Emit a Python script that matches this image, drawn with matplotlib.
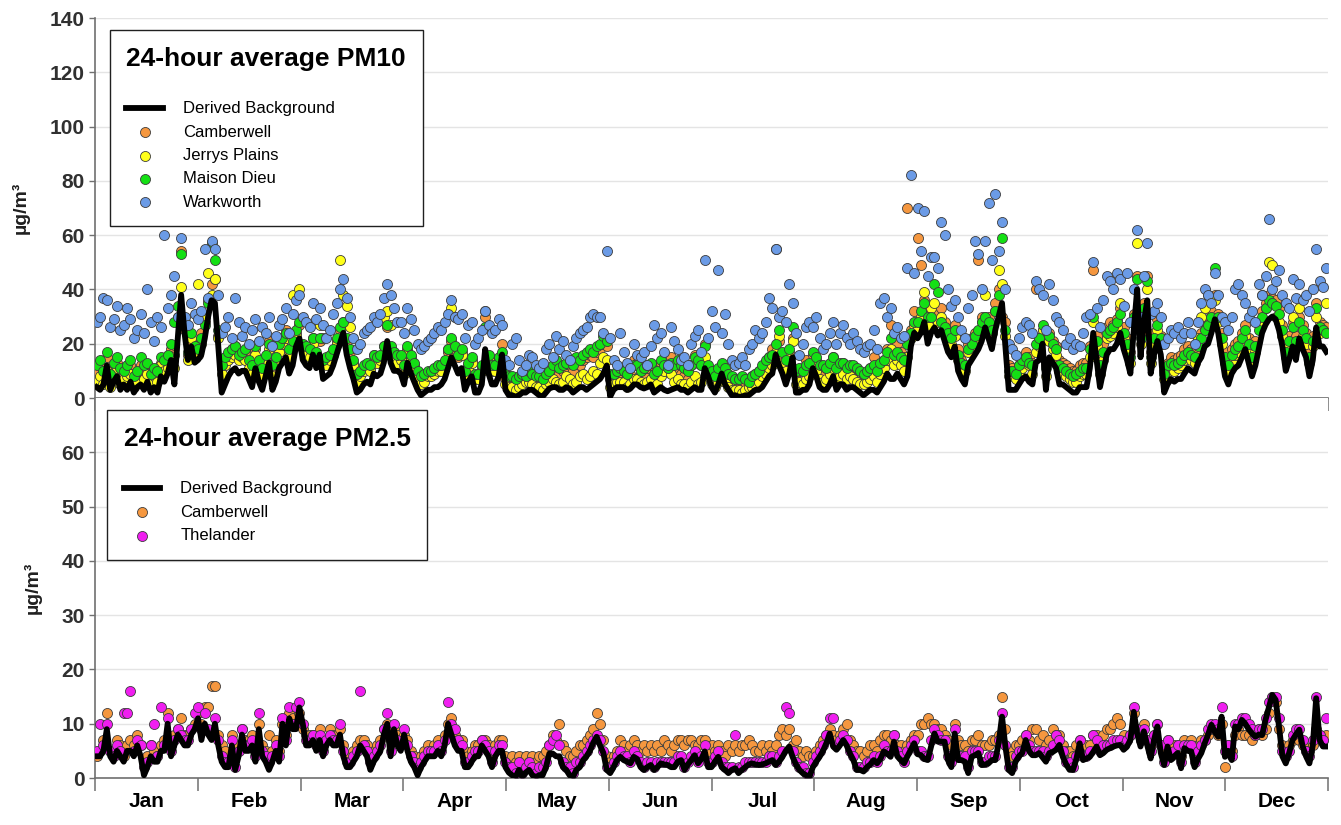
import matplotlib.pyplot as plt
import numpy as np

plt.rcParams['font.family'] = ['Liberation Sans', 'DejaVu Sans']

months = ['Jan', 'Feb', 'Mar', 'Apr', 'May', 'Jun',
          'Jul', 'Aug', 'Sep', 'Oct', 'Nov', 'Dec']

# ---- 24-hour average PM10 (ug/m3), one value per day, a line per month ----
pm10_background = [
    4, 3, 5, 12, 3, 6, 8, 3, 5, 3, 6, 2, 4, 5, 3, 6, 2, 4, 2, 8, 6, 9, 14, 5, 22, 38, 24, 14, 19, 13, 14,
    16, 22, 30, 36, 35, 19, 2, 5, 8, 10, 11, 9, 10, 10, 7, 4, 11, 6, 3, 8, 13, 3, 6, 11, 13, 15, 9, 12,
    19, 22, 14, 12, 11, 16, 11, 16, 7, 8, 9, 12, 16, 20, 24, 16, 11, 7, 2, 3, 5, 6, 5, 9, 8, 9, 13, 21, 13, 10, 10,
    9, 5, 13, 9, 6, 3, 1, 2, 3, 3, 4, 4, 5, 7, 11, 15, 12, 9, 11, 3, 6, 8, 2, 2, 5, 18, 9, 5, 5, 8,
    16, 3, 1, 1, 0.5, 1, 2, 2, 3, 3, 2, 1, 0.5, 2, 3.5, 4, 4, 3, 3, 4, 3.5, 2, 3, 4, 4, 3, 4, 5, 6, 7, 9,
    12, 0.5, 3, 4, 4, 4, 3, 3.5, 5, 5, 4, 3.5, 4, 5, 2, 3, 4, 3, 2.5, 3, 3.5, 4, 3, 3, 2, 3, 4, 3, 3, 11,
    8, 4, 2, 5, 9, 5, 3, 1, 1, 0.5, 0.5, 1, 1, 2, 3, 3, 4, 6, 8, 9, 16, 12, 9, 5, 9, 15, 2, 2, 3, 3, 5,
    11, 8, 4, 3, 3, 5, 8, 3, 5, 5, 3, 4, 4, 3, 2, 1, 2, 3, 3, 2, 4, 6, 9, 7, 7, 9, 7, 5, 8, 19, 24,
    22, 24, 28, 20, 24, 26, 23, 25, 21, 17, 15, 19, 10, 7, 5, 12, 14, 16, 18, 21, 26, 22, 18, 25, 30, 35, 19, 3, 3, 3,
    5, 7, 8, 6, 5, 13, 14, 20, 3, 15, 13, 11, 5, 5, 4, 3, 2, 2, 4, 4, 4, 11, 24, 14, 4, 10, 16, 18, 18, 20, 24,
    18, 14, 9, 25, 40, 15, 28, 36, 9, 16, 21, 16, 2, 5, 7, 6, 7, 7, 9, 11, 10, 9, 13, 15, 19, 20, 24, 29, 24, 16,
    8, 5, 9, 11, 12, 15, 18, 13, 8, 12, 18, 24, 27, 29, 30, 29, 25, 19, 10, 14, 19, 14, 22, 18, 15, 8, 14, 26, 19, 19, 17,
]

pm10_camberwell = [
    10, 12, 9, 15, 7, 11, 13, 8, 9, 10, 12, 7, 9, 12, 10, 11, 8, 10, 9, 13, 12, 14, 18, 16, 30, 54, 25, 16, 21, 17, 16,
    24, 28, 36, 42, 44, 23, 11, 14, 16, 18, 19, 15, 17, 17, 13, 11, 18, 13, 10, 15, 21, 11, 14, 19, 22, 25, 17, 22,
    24, 27, 19, 18, 17, 22, 16, 21, 13, 14, 15, 17, 21, 25, 28, 21, 17, 13, 8, 9, 11, 12, 11, 16, 14, 15, 19, 26, 18, 16, 15,
    15, 11, 18, 15, 12, 9, 7, 8, 9, 9, 10, 11, 11, 13, 17, 21, 18, 15, 17, 9, 12, 14, 8, 8, 11, 30, 15, 11, 11, 14,
    20, 7, 6, 6, 5, 6, 7, 8, 8, 7, 6, 6, 5, 7, 8, 10, 12, 9, 10, 11, 12, 10, 13, 12, 14, 15, 16, 15, 17, 18, 20,
    19, 7, 7, 8, 9, 10, 8, 9, 14, 13, 9, 8, 11, 12, 8, 9, 13, 11, 10, 15, 11, 13, 9, 8, 7, 12, 16, 13, 12, 20,
    11, 8, 6, 9, 12, 8, 7, 6, 5, 5, 6, 6, 7, 8, 9, 10, 11, 13, 15, 18, 55, 21, 14, 12, 17, 22, 9, 10, 11, 14, 12,
    16, 14, 11, 10, 11, 12, 15, 10, 12, 13, 10, 11, 11, 10, 9, 8, 9, 11, 15, 10, 12, 14, 18, 27, 16, 20, 17, 15, 70, 25, 32,
    59, 49, 36, 28, 32, 34, 31, 33, 28, 24, 22, 27, 18, 14, 12, 20, 22, 24, 51, 30, 30, 30, 27, 35, 40, 30, 28, 12, 11, 10,
    12, 14, 17, 15, 13, 40, 22, 25, 12, 24, 21, 19, 14, 13, 12, 11, 10, 10, 12, 13, 13, 19, 47, 23, 14, 20, 26, 28, 27, 29, 33,
    26, 22, 17, 31, 45, 24, 35, 45, 17, 24, 29, 23, 10, 13, 15, 14, 15, 16, 18, 19, 18, 17, 21, 24, 27, 29, 32, 38, 31, 24,
    17, 14, 18, 20, 21, 24, 27, 22, 17, 21, 27, 32, 35, 38, 37, 36, 33, 27, 19, 23, 28, 23, 30, 27, 24, 17, 23, 35, 28, 27, 26,
]

pm10_jerrys_plains = [
    6, 8, 5, 10, 4, 9, 11, 5, 7, 8, 9, 4, 6, 10, 7, 9, 5, 8, 6, 12, 10, 11, 15, 11, 28, 41, 26, 14, 22, 16, 42,
    20, 30, 46, 38, 44, 22, 9, 12, 14, 15, 16, 14, 15, 14, 11, 9, 16, 11, 8, 13, 18, 8, 12, 17, 20, 22, 15, 38,
    23, 40, 18, 16, 15, 20, 28, 27, 22, 12, 14, 16, 20, 51, 38, 34, 26, 12, 6, 8, 10, 11, 10, 14, 13, 14, 30, 32, 27, 14, 13,
    14, 9, 17, 14, 11, 8, 5, 6, 8, 8, 9, 10, 10, 12, 18, 33, 30, 18, 16, 8, 11, 13, 7, 7, 10, 32, 14, 10, 10, 13,
    14, 5, 4, 4, 3, 4, 5, 6, 6, 5, 4, 4, 3, 5, 6, 7, 6, 5, 6, 8, 7, 5, 6, 8, 9, 7, 8, 10, 9, 13, 15,
    14, 4, 5, 6, 6, 6, 4, 5, 7, 7, 6, 5, 6, 7, 4, 5, 8, 10, 12, 9, 6, 7, 5, 5, 4, 6, 8, 5, 6, 15,
    8, 5, 4, 6, 10, 6, 4, 3, 3, 3, 2, 3, 4, 4, 5, 6, 8, 9, 11, 12, 17, 23, 13, 10, 15, 21, 5, 6, 5, 7, 8,
    12, 10, 7, 6, 7, 9, 11, 6, 8, 9, 7, 8, 7, 6, 5, 5, 6, 7, 8, 6, 9, 11, 14, 18, 12, 14, 12, 10, 15, 22, 27,
    26, 30, 39, 27, 33, 35, 28, 30, 25, 22, 20, 23, 14, 11, 10, 17, 19, 22, 24, 28, 38, 26, 24, 32, 47, 42, 23, 8, 8, 7,
    9, 11, 13, 12, 9, 17, 19, 25, 8, 21, 18, 16, 10, 9, 8, 7, 6, 6, 8, 9, 9, 15, 28, 19, 9, 14, 22, 23, 24, 26, 35,
    22, 18, 13, 28, 57, 20, 31, 40, 13, 20, 25, 20, 7, 10, 11, 10, 11, 12, 14, 15, 14, 13, 22, 30, 33, 38, 28, 36, 28, 20,
    13, 10, 14, 16, 17, 20, 23, 18, 13, 17, 28, 38, 33, 50, 49, 30, 28, 23, 15, 19, 30, 20, 33, 23, 20, 13, 19, 30, 24, 25, 35,
]

pm10_maison_dieu = [
    12, 14, 10, 17, 9, 13, 15, 11, 10, 12, 14, 8, 10, 15, 12, 13, 9, 11, 10, 15, 14, 16, 20, 28, 34, 53, 28, 17, 24, 19, 18,
    22, 27, 35, 57, 51, 25, 12, 15, 17, 18, 19, 16, 17, 18, 14, 12, 19, 14, 11, 16, 20, 12, 15, 20, 22, 24, 18, 21,
    25, 28, 20, 19, 18, 22, 17, 22, 14, 15, 16, 18, 22, 26, 28, 22, 18, 14, 9, 10, 12, 13, 12, 16, 15, 16, 19, 27, 19, 17, 16,
    16, 12, 19, 16, 13, 10, 8, 9, 10, 10, 11, 12, 12, 14, 18, 22, 19, 16, 18, 10, 13, 15, 9, 9, 12, 26, 16, 12, 12, 15,
    17, 9, 8, 8, 7, 8, 9, 8, 10, 9, 8, 8, 7, 9, 10, 12, 14, 11, 12, 13, 14, 12, 15, 14, 16, 17, 18, 17, 19, 20, 23,
    21, 9, 9, 10, 11, 10, 9, 11, 12, 12, 10, 11, 12, 13, 9, 10, 14, 12, 11, 13, 12, 14, 12, 11, 10, 12, 15, 14, 12, 19,
    12, 10, 8, 11, 13, 11, 9, 8, 7, 7, 8, 7, 6, 8, 9, 10, 12, 14, 15, 16, 20, 25, 17, 14, 18, 26, 10, 11, 10, 12, 13,
    17, 15, 12, 12, 11, 13, 15, 11, 13, 13, 11, 12, 12, 11, 10, 9, 10, 11, 12, 10, 13, 14, 17, 22, 16, 17, 15, 14, 20, 24, 28,
    28, 32, 35, 30, 30, 42, 39, 28, 26, 24, 22, 25, 16, 13, 12, 18, 20, 23, 25, 28, 30, 28, 25, 32, 38, 59, 25, 10, 10, 9,
    12, 14, 15, 13, 12, 20, 22, 27, 11, 23, 20, 18, 12, 11, 10, 9, 8, 9, 10, 11, 11, 18, 30, 21, 12, 17, 24, 25, 26, 28, 31,
    24, 20, 15, 30, 44, 22, 33, 43, 15, 22, 27, 22, 9, 12, 13, 12, 13, 14, 16, 17, 16, 15, 19, 22, 25, 27, 30, 48, 30, 22,
    15, 12, 16, 18, 19, 22, 25, 20, 15, 19, 25, 30, 33, 36, 35, 34, 31, 25, 17, 21, 26, 21, 28, 25, 22, 15, 21, 33, 26, 25, 24,
]

pm10_warkworth = [
    28, 30, 37, 36, 26, 29, 34, 25, 27, 33, 29, 22, 25, 31, 24, 40, 28, 21, 30, 26, 60, 33, 38, 45, 30, 59, 30, 27, 35, 31, 29,
    32, 55, 37, 58, 55, 38, 24, 26, 30, 22, 37, 28, 23, 26, 20, 25, 29, 21, 26, 24, 30, 19, 23, 27, 29, 33, 24, 31,
    36, 38, 30, 28, 26, 35, 29, 33, 27, 22, 25, 31, 35, 40, 44, 37, 30, 22, 18, 20, 24, 25, 26, 30, 28, 31, 37, 42, 38, 33, 28,
    28, 24, 33, 29, 25, 20, 18, 19, 21, 22, 24, 26, 25, 28, 31, 36, 30, 29, 31, 22, 27, 28, 20, 22, 25, 32, 27, 24, 25, 29,
    27, 14, 12, 20, 22, 14, 10, 12, 16, 15, 12, 11, 13, 18, 20, 15, 23, 18, 21, 16, 14, 19, 22, 24, 25, 26, 30, 31, 30, 30, 24,
    54, 22, 14, 12, 24, 17, 13, 11, 20, 16, 15, 17, 12, 19, 27, 22, 24, 17, 12, 26, 21, 18, 14, 15, 12, 20, 23, 25, 17, 51,
    22, 32, 26, 47, 24, 31, 20, 14, 12, 13, 15, 12, 18, 20, 25, 22, 24, 28, 37, 33, 55, 30, 32, 28, 42, 35, 24, 16, 20, 26, 28,
    26, 30, 22, 18, 20, 24, 28, 20, 24, 27, 22, 20, 24, 21, 18, 17, 19, 20, 25, 18, 35, 37, 30, 33, 24, 26, 22, 23, 48, 82, 46,
    70, 54, 69, 45, 52, 52, 48, 65, 60, 40, 34, 36, 30, 25, 22, 33, 38, 58, 53, 40, 58, 72, 51, 75, 54, 65, 40, 20, 18, 16,
    22, 26, 28, 27, 24, 43, 40, 38, 25, 42, 36, 30, 28, 25, 20, 22, 18, 20, 19, 24, 30, 31, 50, 33, 26, 36, 45, 43, 40, 46, 44,
    34, 46, 28, 40, 62, 30, 45, 57, 31, 32, 35, 30, 20, 22, 25, 24, 26, 22, 24, 28, 24, 20, 28, 35, 40, 38, 35, 46, 38, 30,
    28, 25, 30, 40, 42, 38, 35, 30, 32, 28, 42, 38, 45, 66, 40, 43, 47, 38, 35, 33, 44, 37, 42, 36, 38, 32, 40, 55, 43, 41, 48,
]

# ---- 24-hour average PM2.5 (ug/m3) ----
pm25_background = [
    4, 4, 5, 9, 4, 3, 5, 4, 3, 5, 5, 4, 6, 4, 0.5, 2, 4, 3, 3, 5, 5, 10, 4, 6, 8, 7, 6, 6, 8, 9, 11,
    7, 10, 8, 7, 10, 6, 3, 2, 2, 6, 1.5, 4, 8, 5, 5, 6, 3, 9, 4, 3, 1.5, 3, 5, 3, 10, 6, 11, 9,
    9, 13, 10, 6, 6, 7, 5, 7, 4, 6, 7, 6, 6, 8, 4, 2, 2, 3, 4, 6, 5, 4, 1.5, 3, 4, 5, 8, 10, 4, 9, 6,
    5, 8, 5, 3, 2, 0.5, 2, 3, 4, 4, 4, 5, 4, 6, 10, 8, 6, 5, 5, 2, 2, 3, 4, 4, 6, 5, 4, 2, 4, 5,
    5, 2, 1, 0.5, 0.2, 1.5, 0.2, 1, 1.5, 0.5, 0.2, 0.5, 0.5, 2, 4.5, 4.5, 4, 4, 2, 1.5, 0.5, 0.2, 1.5, 2, 3.3, 4, 5, 6.5, 7.6, 6, 4.6,
    1.5, 0.9, 2, 3.3, 3.9, 3.3, 3, 2.7, 3.9, 3.5, 2, 1.5, 2, 2.4, 1.5, 2, 2.7, 2.5, 2.4, 2, 2, 3, 3.3, 1.5, 2.5, 3.3, 4.2, 2.7, 3.5, 4.9,
    2, 2, 3, 3.9, 2, 1.5, 0.9, 1.5, 1.8, 0.9, 1.5, 2, 2.5, 2.7, 2.5, 2.4, 2.5, 2.7, 3, 3.3, 2.4, 3, 3.9, 5, 5.8, 3.9, 2.5, 1.5, 0.9, 0.5, 0.2,
    2, 3, 3.9, 5, 6.4, 8.2, 5.8, 5.2, 6, 7, 6, 4.5, 3.3, 1.5, 1.5, 1.2, 2, 2.5, 3.3, 2.7, 3.5, 4.9, 4.5, 3.9, 6.7, 4, 3.3, 2.7, 4, 5.2, 6.4,
    4.4, 4.2, 3.5, 3.3, 5.8, 8.2, 6.7, 6.7, 6.7, 3.3, 2, 8.2, 3.3, 3.3, 3, 0.9, 3.9, 4.2, 4.6, 2.4, 2.5, 2.7, 3.3, 3.3, 6.4, 11.3, 5.8, 1.5, 0.9, 3,
    4, 4.6, 7, 5, 4.2, 4.2, 4.6, 3.8, 3, 4.6, 4.8, 5.2, 6.1, 3.9, 2.5, 1.5, 1.5, 3.5, 6.4, 3.3, 3.6, 3.9, 4.8, 5.8, 4.2, 4.6, 5.2, 5.5, 5.8, 6, 6.1,
    5.2, 5.8, 7, 12.2, 8.2, 5.8, 8.6, 6, 3.6, 7, 9.5, 4.6, 2.4, 5.8, 3.3, 4, 4.6, 1.8, 5.5, 5, 4.9, 2, 3.5, 4.6, 6.4, 8, 9.8, 8.5, 7.6, 11.3,
    3.9, 5, 3.3, 9.5, 9, 10.7, 10, 9, 8.2, 7.6, 8, 7.9, 10.7, 13, 15.3, 14.4, 9.5, 4, 2.7, 4.6, 7, 8, 8.9, 5.8, 4, 2.7, 6, 14.7, 7, 5.8, 5.8,
]

pm25_camberwell = [
    4, 5, 7, 12, 5, 5, 7, 6, 4, 6, 7, 6, 8, 6, 3, 4, 6, 5, 4, 6, 7, 12, 6, 8, 9, 11, 8, 8, 9, 10, 12,
    10, 13, 13, 17, 17, 8, 6, 5, 3, 8, 4, 6, 9, 7, 7, 8, 5, 10, 6, 5, 8, 5, 7, 5, 10, 8, 12, 11,
    10, 12, 9, 8, 8, 8, 7, 9, 6, 7, 9, 8, 8, 9, 6, 4, 4, 5, 6, 7, 7, 6, 4, 5, 6, 7, 9, 10, 7, 9, 8,
    7, 8, 7, 5, 4, 3, 4, 5, 6, 5, 6, 7, 6, 8, 10, 11, 8, 7, 7, 5, 4, 5, 6, 6, 7, 7, 6, 4, 6, 7,
    7, 4, 3, 4, 3, 4, 3, 4, 3, 4, 3, 4, 4, 5, 6, 8, 7, 10, 6, 5, 4, 4, 5, 6, 6, 7, 8, 9, 12, 10, 7,
    4, 3, 4, 5, 7, 6, 5, 6, 7, 6, 5, 6, 5, 6, 5, 6, 5, 7, 6, 5, 6, 7, 7, 6, 7, 7, 6, 6, 7, 7,
    5, 6, 5, 6, 5, 4, 6, 5, 6, 5, 6, 6, 7, 6, 5, 5, 6, 5, 6, 5, 6, 8, 9, 8, 9, 6, 7, 5, 4, 5, 4,
    4, 5, 6, 7, 8, 9, 8, 7, 8, 9, 10, 7, 6, 5, 5, 4, 5, 6, 6, 5, 7, 8, 8, 7, 8, 6, 6, 5, 6, 7, 8,
    8, 10, 10, 11, 10, 10, 9, 9, 8, 7, 6, 10, 7, 6, 6, 5, 7, 7, 8, 6, 6, 6, 7, 7, 8, 15, 9, 5, 4, 6,
    6, 7, 8, 7, 9, 9, 7, 8, 6, 7, 9, 8, 8, 6, 5, 5, 4, 6, 7, 6, 6, 6, 8, 8, 7, 8, 9, 9, 10, 11, 10,
    8, 7, 8, 12, 9, 7, 10, 7, 6, 8, 10, 6, 5, 7, 5, 6, 6, 4, 7, 6, 7, 5, 6, 7, 7, 8, 9, 9, 8, 10,
    2, 6, 5, 8, 9, 8, 8, 8, 7, 8, 9, 8, 9, 12, 15, 14, 9, 6, 5, 6, 7, 8, 7, 6, 5, 5, 6, 9, 8, 7, 8,
]

pm25_thelander = [
    5, 10, 6, 10, 5, 4, 6, 5, 12, 12, 16, 5, 7, 6, 2, 3, 6, 10, 4, 13, 6, 11, 5, 7, 9, 8, 7, 7, 9, 12, 13,
    9, 12, 9, 8, 11, 7, 4, 3, 3, 7, 2, 5, 9, 6, 6, 7, 4, 12, 5, 4, 3, 4, 6, 4, 11, 7, 13, 10,
    13, 14, 10, 7, 7, 8, 6, 8, 5, 7, 8, 7, 7, 10, 5, 3, 3, 4, 5, 16, 6, 5, 3, 4, 5, 6, 9, 12, 5, 10, 7,
    6, 9, 6, 4, 3, 2, 3, 4, 5, 5, 5, 6, 5, 7, 14, 10, 9, 7, 6, 3, 3, 4, 5, 5, 7, 6, 5, 3, 5, 6,
    6, 3, 2, 2, 1, 3, 1, 2, 3, 2, 1, 2, 2, 3, 6, 7, 8, 6, 3, 2, 2, 1, 3, 3, 4, 5, 6, 7, 8, 7, 5,
    2, 2, 3, 4, 5, 4, 4, 3, 5, 4, 3, 2, 3, 3, 2, 3, 3, 3, 3, 3, 3, 4, 4, 2, 3, 4, 5, 3, 4, 6,
    3, 3, 4, 5, 3, 2, 2, 2, 8, 2, 2, 3, 3, 3, 3, 3, 3, 3, 4, 4, 3, 4, 5, 13, 12, 5, 3, 2, 2, 1, 1,
    3, 4, 5, 6, 8, 11, 11, 6, 7, 8, 7, 5, 4, 2, 2, 2, 3, 3, 4, 3, 4, 6, 5, 5, 8, 5, 4, 3, 5, 6, 7,
    5, 5, 4, 4, 7, 9, 8, 7, 7, 4, 3, 9, 4, 4, 4, 2, 5, 5, 5, 3, 3, 4, 4, 4, 7, 12, 6, 2, 2, 4,
    5, 5, 8, 6, 5, 5, 5, 5, 4, 5, 6, 8, 7, 5, 3, 3, 2, 4, 7, 4, 4, 5, 8, 7, 5, 6, 6, 6, 7, 7, 7,
    6, 7, 8, 13, 9, 7, 9, 7, 5, 8, 10, 6, 3, 7, 4, 5, 6, 3, 6, 6, 6, 3, 5, 6, 7, 9, 10, 10, 9, 13,
    5, 6, 4, 10, 10, 11, 11, 10, 9, 8, 9, 9, 11, 14, 15, 15, 11, 5, 4, 5, 8, 9, 9, 7, 5, 4, 7, 15, 8, 7, 11,
]

pm10_stations = [('Camberwell', pm10_camberwell, '#f5973f'),
                 ('Jerrys Plains', pm10_jerrys_plains, '#ffff1a'),
                 ('Maison Dieu', pm10_maison_dieu, '#14e014'),
                 ('Warkworth', pm10_warkworth, '#6b9be6')]
pm25_stations = [('Camberwell', pm25_camberwell, '#f5973f'),
                 ('Thelander', pm25_thelander, '#f01ef0')]

W, H = 1341, 825
fig = plt.figure(figsize=(W / 100, H / 100), dpi=100)
ax_top = fig.add_axes([95 / W, 1 - 398 / H, 1233 / W, 380 / H])
ax_bot = fig.add_axes([95 / W, 1 - 778 / H, 1233 / W, 380 / H])

month_edges = np.linspace(0, 365, 13)
month_mids = (month_edges[:-1] + month_edges[1:]) / 2


def draw_panel(ax, stations, background, ymax, yticks, title, anchor):
    handles = []
    for name, values, colour in stations:
        h = ax.scatter(np.arange(len(values)) + 0.5, values, s=52, c=colour,
                       edgecolors='#3c3c3c', linewidths=0.6, zorder=3, label=name)
        handles.append(h)
    line, = ax.plot(np.arange(len(background)) + 0.5, background, color='black',
                    lw=4.2, zorder=4, solid_joinstyle='round', label='Derived Background')

    ax.set_xlim(0, 365)
    ax.set_ylim(0, ymax)
    ax.set_yticks(yticks)
    ax.yaxis.grid(True, color='#e4e4e4', lw=1)
    ax.set_axisbelow(True)
    for side in ('top', 'right'):
        ax.spines[side].set_visible(False)
    for side in ('left', 'bottom'):
        ax.spines[side].set_color('#707070')
        ax.spines[side].set_linewidth(1.2)

    ax.set_xticks(month_edges)
    ax.set_xticks(month_mids, minor=True)
    ax.tick_params(axis='x', which='major', length=9, width=1.1, color='#707070', labelbottom=False)
    ax.tick_params(axis='x', which='minor', length=0)
    ax.tick_params(axis='y', length=4, width=1, color='#707070', labelsize=15, labelcolor='#303030')
    for lab in ax.get_yticklabels():
        lab.set_fontweight('bold')
    ax.set_ylabel('µg/m³', fontsize=14, fontweight='bold', color='#202020', labelpad=14)

    leg = ax.legend([line] + handles, [line.get_label()] + [h.get_label() for h in handles],
                    loc='upper left', bbox_to_anchor=anchor, borderaxespad=0,
                    title=title, title_fontproperties={'weight': 'bold', 'size': 19},
                    alignment='left', fontsize=12, handlelength=2.2, handletextpad=1.2,
                    labelspacing=0.5, borderpad=1.0, frameon=True, fancybox=False,
                    framealpha=1, edgecolor='#202020', markerscale=1.0)
    leg.get_frame().set_linewidth(1.0)
    leg._legend_box.sep = 22
    return ax


draw_panel(ax_top, pm10_stations, pm10_background, 140, range(0, 141, 20),
           '24-hour average PM10', (0.012, 0.968))
draw_panel(ax_bot, pm25_stations, pm25_background, 70, range(0, 61, 10),
           '24-hour average PM2.5', (0.0097, 0.968))

ax_bot.set_xticklabels(months, minor=True)
ax_bot.tick_params(axis='x', which='minor', labelbottom=True, labelsize=15, pad=10)
for lab in ax_bot.get_xticklabels(minor=True):
    lab.set_fontweight('bold')

fig.savefig('out.png', dpi=100)
